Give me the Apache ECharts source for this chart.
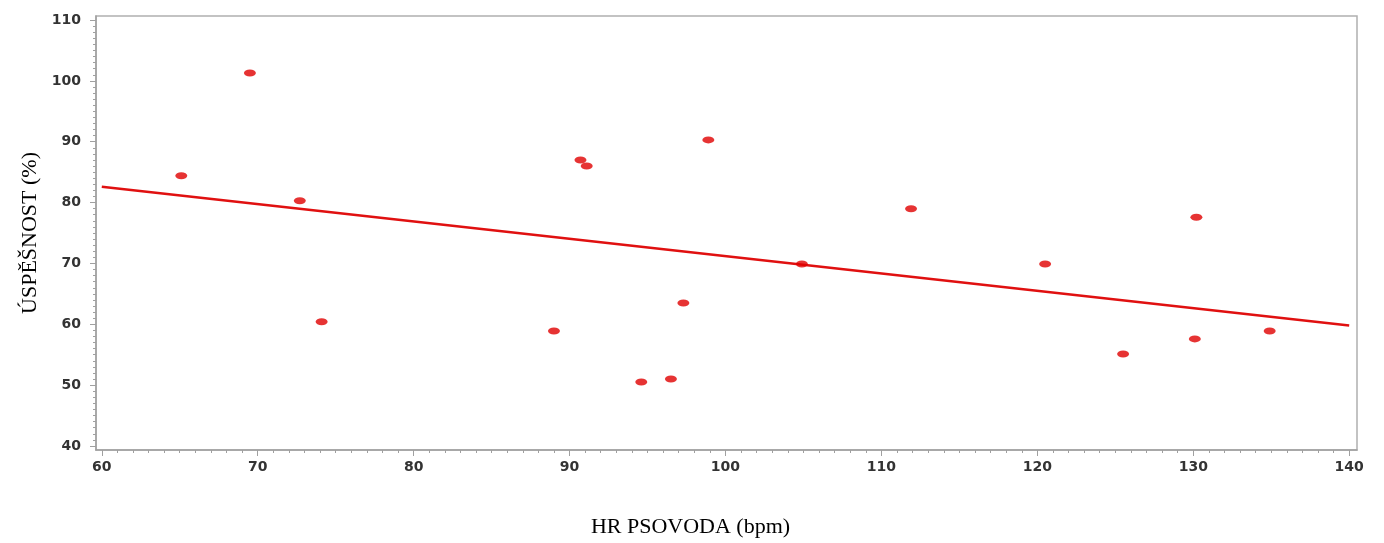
<!DOCTYPE html>
<html>
<head>
<meta charset="utf-8">
<title>HR PSOVODA vs ÚSPĚŠNOST</title>
<script src="https://cdn.jsdelivr.net/npm/echarts@6/dist/echarts.min.js"></script>
<style>
  html, body { margin: 0; padding: 0; background: #fff; }
  #main { width: 1384px; height: 543px; }
</style>
</head>
<body>
<div id="main"></div>
<script>
// values
var hrValues = [65.1, 69.5, 72.7, 74.1, 89.0, 90.7, 91.1, 94.6, 96.5, 97.3, 98.9, 104.9, 111.9, 120.5, 125.5, 130.2, 130.1, 134.9]
var successValues = [84.4, 101.3, 80.3, 60.4, 58.9, 87.0, 86.0, 50.5, 51.0, 63.5, 90.3, 69.9, 79.0, 69.9, 55.1, 77.6, 57.6, 58.9]
var fitX = [60, 140]
var fitY = [82.6, 59.8]
var xTicks = [60, 70, 80, 90, 100, 110, 120, 130, 140]
var yTicks = [40, 50, 60, 70, 80, 90, 100, 110]

var xMinor = []
for (var i = 60; i <= 140; i++) xMinor.push(i)
var yMinor = []
for (var j = 40; j <= 110; j++) yMinor.push(j)

var points = hrValues.map(function (x, k) { return [x, successValues[k]] })
var fitLine = fitX.map(function (x, k) { return [x, fitY[k]] })

var labelStyle = {
  color: '#333',
  fontFamily: 'DejaVu Sans',
  fontSize: 14,
  fontWeight: 'bold'
}

var myChart = echarts.init(document.getElementById('main'))

var option = {
  animation: false,
  backgroundColor: '#fff',
  grid: {
    left: 96, right: 27, top: 16, bottom: 93,
    show: true, borderColor: '#b0b0b0', borderWidth: 1.5
  },
  xAxis: [{
    type: 'value', min: 59.63, max: 140.5,
    name: 'HR PSOVODA (bpm)', nameLocation: 'middle', nameGap: 66,
    nameTextStyle: { fontFamily: 'Liberation Serif', fontSize: 22, color: '#000', padding: [0, 72, 0, 0] },
    axisLine: { lineStyle: { color: '#a0a0a0', width: 1.5 } },
    axisTick: { customValues: xTicks, length: 6, lineStyle: { color: '#a0a0a0' } },
    axisLabel: Object.assign({ customValues: xTicks, margin: 10 }, labelStyle),
    splitLine: { show: false }
  }, {
    type: 'value', min: 59.63, max: 140.5, position: 'bottom',
    axisLine: { show: false },
    axisTick: { customValues: xMinor, length: 3, lineStyle: { color: '#a0a0a0' } },
    axisLabel: { show: false },
    splitLine: { show: false }
  }],
  yAxis: [{
    type: 'value', min: 39.34, max: 110.66,
    name: 'ÚSPĚŠNOST (%)', nameLocation: 'middle', nameGap: 55, nameRotate: 90,
    nameTextStyle: { fontFamily: 'Liberation Serif', fontSize: 22, color: '#000' },
    axisLine: { lineStyle: { color: '#a0a0a0', width: 1.5 } },
    axisTick: { customValues: yTicks, length: 6, lineStyle: { color: '#a0a0a0' } },
    axisLabel: Object.assign({ customValues: yTicks, margin: 15 }, labelStyle),
    splitLine: { show: false }
  }, {
    type: 'value', min: 39.34, max: 110.66, position: 'left',
    axisLine: { show: false },
    axisTick: { customValues: yMinor, length: 3, lineStyle: { color: '#a0a0a0' } },
    axisLabel: { show: false },
    splitLine: { show: false }
  }],
  series: [{
    type: 'line',
    data: fitLine,
    symbol: 'none',
    lineStyle: { color: '#e01010', width: 2.5 },
    z: 2
  }, {
    type: 'scatter',
    data: points,
    symbol: 'circle',
    symbolSize: [12, 7],
    itemStyle: { color: '#e00000' },
    z: 3
  }]
}

myChart.setOption(option)
</script>
</body>
</html>
